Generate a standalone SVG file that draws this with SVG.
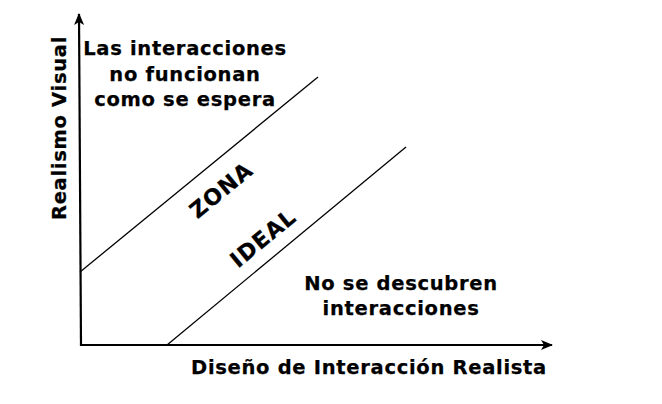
<svg xmlns="http://www.w3.org/2000/svg" width="662" height="404" viewBox="0 0 662 404">
<style>
.t{font-family:"DejaVu Sans",sans-serif;font-weight:bold;font-size:19.5px;letter-spacing:0.7px;fill:#000;stroke:#000;stroke-width:0.25;text-anchor:middle}
.big{font-size:22px;letter-spacing:1px}
.ax{stroke:#000;stroke-width:2.2;fill:none}
.dg{stroke:#000;stroke-width:1.3;fill:none}
</style>
<defs>
<marker id="ah" viewBox="0 0 12 10" refX="11" refY="5" markerWidth="12" markerHeight="10" markerUnits="userSpaceOnUse" orient="auto">
<path d="M0,0 L12,5 L0,10 L3,5 Z" fill="#000"/>
</marker>
</defs>
<rect width="662" height="404" fill="#fff"/>
<g id="connectors">
<path class="ax" d="M81,346 L79,14" marker-end="url(#ah)"/>
<path class="ax" d="M80,345 L552,345" marker-end="url(#ah)"/>
<path class="dg" d="M80,272 L318,77"/>
<path class="dg" d="M167,345 L406,147"/>
</g>
<g id="ylabel"><text class="t" transform="translate(66,128) rotate(-90)">Realismo Visual</text></g>
<g id="xlabel"><text class="t" x="369" y="374">Diseño de Interacción Realista</text></g>
<g id="top"><text class="t" x="185" y="55">Las interacciones</text><text class="t" x="185" y="81">no funcionan</text><text class="t" x="185" y="106">como se espera</text></g>
<g id="bottom"><text class="t" x="401" y="290">No se descubren</text><text class="t" x="401" y="315">interacciones</text></g>
<g id="zona"><text class="t big" transform="translate(226,196) rotate(-39.5)">ZONA</text></g>
<g id="ideal"><text class="t big" transform="translate(268,244) rotate(-39.5)">IDEAL</text></g>
</svg>
